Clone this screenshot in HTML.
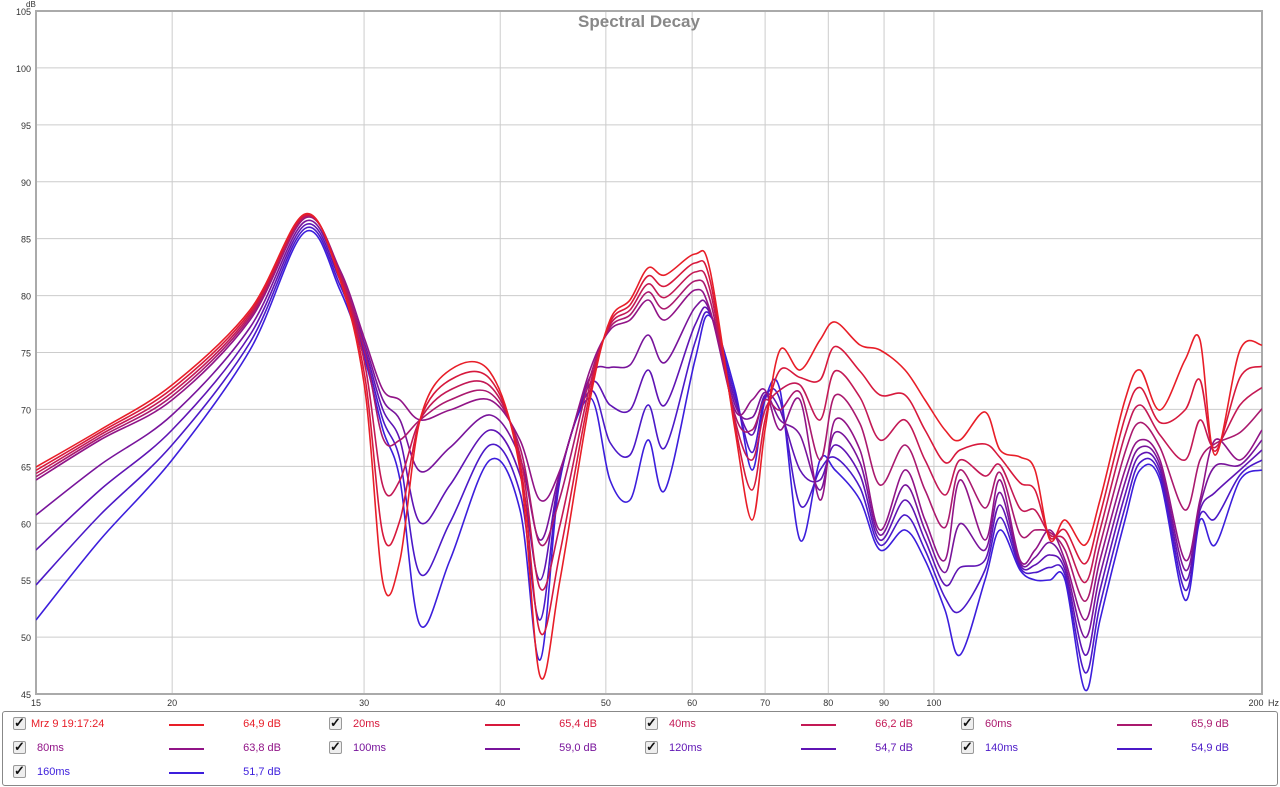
<!DOCTYPE html>
<html><head><meta charset="utf-8"><style>
body{margin:0;width:1280px;height:787px;background:#fff;font-family:"Liberation Sans",sans-serif;overflow:hidden;position:relative}
svg{position:absolute;left:0;top:0}
.lg{position:absolute;left:2px;top:711px;width:1274px;height:73px;border:1px solid #888;border-radius:3px}
.it{position:absolute;font-size:11px;height:14px;line-height:14px}
.cb{position:absolute;width:11px;height:11px;border:1px solid #999;border-radius:2px;background:#eee;font-size:13px;line-height:9px;color:#111;text-align:center;font-weight:bold}
.ln{position:absolute;width:35px;height:2px}
</style></head><body>
<svg width="1280" height="787" id="s"></svg>
<div class="lg" id="lg"></div>
<script>
var NS="http://www.w3.org/2000/svg",s=document.getElementById('s');
function el(t,a,txt){var e=document.createElementNS(NS,t);for(var k in a)e.setAttribute(k,a[k]);if(txt!=null)e.textContent=txt;s.appendChild(e);return e;}
var L=36,R=1262,T=11,B=694;
function yv(v){return B-(v-45)*(B-T)/60;}
function xv(f){return L+Math.log10(f/15)/Math.log10(200/15)*(R-L);}
for(var v=45;v<=105;v+=5){var y=yv(v);el('line',{x1:L,x2:R,y1:y,y2:y,stroke:'#ccc','stroke-width':1});el('text',{x:31,y:y+4,'text-anchor':'end','font-size':9,fill:'#333'},v);}
el('text',{x:26,y:7,'font-size':8,fill:'#333'},'dB');
[15,20,30,40,50,60,70,80,90,100,200].forEach(function(f){var x=xv(f);el('line',{x1:x,x2:x,y1:T,y2:B,stroke:'#ccc','stroke-width':1});el('text',{x:f==200?x-6:x,y:706,'text-anchor':'middle','font-size':9,fill:'#333'},f);});
el('text',{x:1268,y:706,'font-size':9,fill:'#333'},'Hz');
el('rect',{x:L,y:T,width:R-L,height:B-T,fill:'none',stroke:'#aaa','stroke-width':2});
el('text',{x:639,y:27,'text-anchor':'middle','font-size':17,'font-weight':'bold',fill:'#888'},'Spectral Decay');
var X=[36,100,172,250,305,340,365,383,400,420,450,490,520,540,560,590,610,630,648,665,695,710,735,752,765,780,800,820,835,860,880,905,925,945,960,985,1000,1020,1035,1050,1065,1085,1100,1125,1140,1160,1185,1200,1215,1240,1262];
var Rd=[467,430,385,310,214,280,390,583,560,420,370,372,470,676,580,400,320,300,268,275,254,270,430,520,430,350,370,340,322,345,350,370,400,430,440,412,450,457,470,540,520,545,500,400,370,410,360,340,455,350,345];
var Md=[480,440,400,320,218,270,340,390,400,420,410,400,440,500,470,370,330,320,300,320,290,310,410,400,390,430,400,500,420,450,530,470,520,560,480,540,480,560,550,530,560,620,560,470,440,460,560,500,440,460,430];
var Bl=[620,540,460,350,232,290,360,430,480,625,560,460,510,660,480,398,480,500,440,490,360,316,390,470,400,390,540,460,470,500,550,530,560,610,655,580,530,570,580,580,580,690,620,520,470,480,600,520,545,480,470];
var cols=[[232,30,40],[215,25,60],[195,25,85],[170,25,110],[145,20,135],[120,20,155],[95,20,180],[75,25,200],[60,30,220]];
function col(i){var c=cols[i];return 'rgb('+c.join(',')+')';}
el('clipPath',{id:'cp'});var cp=s.lastChild;var r=document.createElementNS(NS,'rect');r.setAttribute('x',L);r.setAttribute('y',T);r.setAttribute('width',R-L);r.setAttribute('height',B-T);cp.appendChild(r);
for(var i=8;i>=0;i--){var t=i/8,Y=[];for(var j=0;j<X.length;j++){var y=t<.5?Rd[j]+(Md[j]-Rd[j])*t*2:Md[j]+(Bl[j]-Md[j])*(t-.5)*2;Y.push(y);}
var d='M'+X[0]+','+Y[0];for(var j=0;j<X.length-1;j++){var x0=X[Math.max(j-1,0)],y0=Y[Math.max(j-1,0)],x3=X[Math.min(j+2,X.length-1)],y3=Y[Math.min(j+2,X.length-1)];
d+=' C'+(X[j]+(X[j+1]-x0)/6)+','+(Y[j]+(Y[j+1]-y0)/6)+' '+(X[j+1]-(x3-X[j])/6)+','+(Y[j+1]-(y3-Y[j])/6)+' '+X[j+1]+','+Y[j+1];}
el('path',{d:d,fill:'none',stroke:col(i),'stroke-width':1.6,'clip-path':'url(#cp)'});}
var names=['Mrz 9 19:17:24','20ms','40ms','60ms','80ms','100ms','120ms','140ms','160ms'],vals=['64,9 dB','65,4 dB','66,2 dB','65,9 dB','63,8 dB','59,0 dB','54,7 dB','54,9 dB','51,7 dB'];
var lg=document.getElementById('lg'),h='';
for(var i=0;i<9;i++){var c=i%4,rw=Math.floor(i/4),x=c*316,y=rw*24;
h+='<div class="cb" style="left:'+(10+x)+'px;top:'+(5+y)+'px">&#10003;</div>';
h+='<div class="it" style="left:'+(28+x+(i==0?0:6))+'px;top:'+(5+y)+'px;color:'+col(i)+'">'+names[i]+'</div>';
h+='<div class="ln" style="left:'+(166+x)+'px;top:'+(12+y)+'px;background:'+col(i)+'"></div>';
h+='<div class="it" style="left:'+(200+x)+'px;width:78px;text-align:right;top:'+(5+y)+'px;color:'+col(i)+'">'+vals[i]+'</div>';}
lg.innerHTML=h;
</script>
</body></html>
